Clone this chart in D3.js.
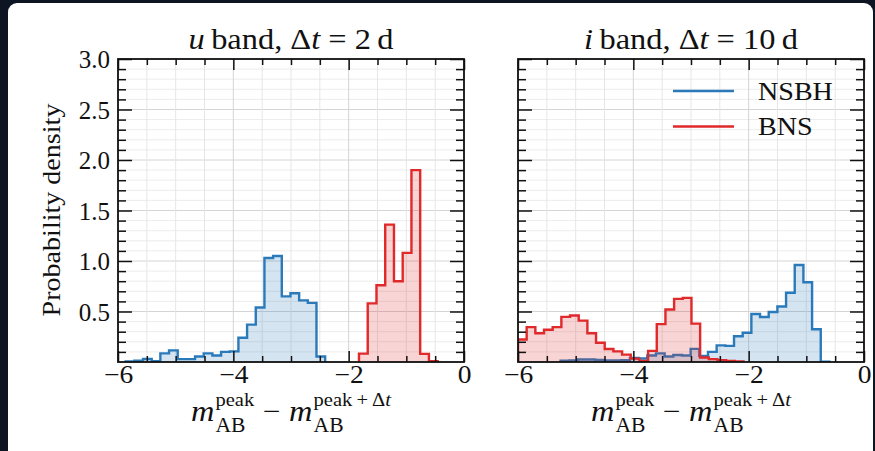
<!DOCTYPE html>
<html>
<head>
<meta charset="utf-8">
<script src="https://cdn.jsdelivr.net/npm/d3@7"></script>
<style>
  body { margin: 0; background: #0e1522; }
  svg { display: block; }
</style>
</head>
<body>
<svg id="chart" width="875" height="451"></svg>
<script>
// ---- data -------------------------------------------------------------
const xTickValues = [-6, -4, -2, 0];
const yTickValues = [0.5, 1.0, 1.5, 2.0, 2.5, 3.0];
const seriesNames = ["NSBH", "BNS"];

// u band, Δt = 2 d : first bin edge, bin width, probability densities
const uNsbhStart = -5.867, uNsbhWidth = 0.1504;
const uNsbhDensity = [0.005, 0.012, 0.03, 0.008, 0.085, 0.115, 0.028, 0.028, 0.055, 0.085,
  0.065, 0.1, 0.105, 0.24, 0.37, 0.54, 1.03, 1.05, 0.65, 0.68, 0.61, 0.585, 0.055];
const uBnsStart = -1.821, uBnsWidth = 0.1516;
const uBnsDensity = [0.083, 0.58, 0.76, 1.36, 0.80, 1.08, 1.90, 0.08, 0.008];

// i band, Δt = 10 d
const iNsbhStart = -5.262, iNsbhWidth = 0.1504;
const iNsbhDensity = [0.012, 0.015, 0.025, 0.025, 0.02, 0.015, 0.015, 0.018, 0.04, 0.035,
  0.065, 0.085, 0.055, 0.07, 0.065, 0.13, 0.06, 0.1, 0.165, 0.16, 0.255, 0.29, 0.475,
  0.445, 0.495, 0.55, 0.685, 0.96, 0.79, 0.325, 0.004];
const iBnsStart = -6.0, iBnsWidth = 0.1504;
const iBnsDensity = [0.223, 0.345, 0.285, 0.32, 0.345, 0.447, 0.46, 0.41, 0.285, 0.19,
  0.128, 0.105, 0.073, 0.033, 0.01, 0.11, 0.375, 0.52, 0.625, 0.635, 0.38, 0.045,
  0.028, 0.018, 0.01, 0.005];

// ---- layout & style ---------------------------------------------------
const FONT = "'Liberation Serif', 'Times New Roman', serif";
const TXT_STRETCH = 1.08;
const COLORS = { NSBH: "#2a7aba", BNS: "#e0292b" };
const plotTop = 59, plotBottom = 362;

const panels = [
  { left: 118, right: 464, band: "u", dt: "2", showY: true,
    series: [
      { name: "NSBH", start: uNsbhStart, width: uNsbhWidth, values: uNsbhDensity },
      { name: "BNS", start: uBnsStart, width: uBnsWidth, values: uBnsDensity }
    ] },
  { left: 518, right: 864, band: "i", dt: "10", showY: false, legend: true,
    series: [
      { name: "NSBH", start: iNsbhStart, width: iNsbhWidth, values: iNsbhDensity },
      { name: "BNS", start: iBnsStart, width: iBnsWidth, values: iBnsDensity }
    ] }
];

const svg = d3.select("#chart");

// card background
svg.append("rect").attr("width", 875).attr("height", 451).attr("fill", "#0e1522");
svg.append("rect").attr("x", 8).attr("y", 3).attr("width", 865).attr("height", 470)
  .attr("rx", 9).attr("fill", "#ffffff");

const y = d3.scaleLinear().domain([0, 3]).range([plotBottom, plotTop]);

function stepPoints(s) {
  const pts = [[s.start, 0]];
  s.values.forEach((v, i) => {
    pts.push([s.start + i * s.width, v]);
    pts.push([s.start + (i + 1) * s.width, v]);
  });
  pts.push([s.start + s.values.length * s.width, 0]);
  return pts;
}

// horizontally stretched text group helper
function stretchedText(parent, x, yPos, anchor) {
  return parent.append("g")
    .attr("transform", `translate(${x},${yPos}) scale(${TXT_STRETCH},1)`)
    .append("text").attr("text-anchor", anchor).attr("font-family", FONT).attr("fill", "#111");
}

panels.forEach((p, pi) => {
  const x = d3.scaleLinear().domain([-6, 0]).range([p.left, p.right]);
  const g = svg.append("g");
  const clipId = "clip" + pi;
  g.append("clipPath").attr("id", clipId).append("rect")
    .attr("x", p.left).attr("y", plotTop)
    .attr("width", p.right - p.left).attr("height", plotBottom - plotTop);

  // grid
  const grid = g.append("g");
  d3.range(0, 3.001, 0.1).forEach(v => {
    const major = Math.abs(v * 2 - Math.round(v * 2)) < 1e-6;
    grid.append("line").attr("x1", p.left).attr("x2", p.right)
      .attr("y1", y(v)).attr("y2", y(v))
      .attr("stroke", major ? "#d4d4d4" : "#ececec").attr("stroke-width", 1);
  });
  d3.range(-6, 0.001, 0.5).forEach(v => {
    const major = Math.abs(v / 2 - Math.round(v / 2)) < 1e-6;
    grid.append("line").attr("y1", plotTop).attr("y2", plotBottom)
      .attr("x1", x(v)).attr("x2", x(v))
      .attr("stroke", major ? "#d4d4d4" : "#e6e6e6").attr("stroke-width", 1);
  });

  // histograms
  const area = d3.area().x(d => x(d[0])).y0(y(0)).y1(d => y(d[1]));
  const line = d3.line().x(d => x(d[0])).y(d => y(d[1]));
  const hist = g.append("g").attr("clip-path", `url(#${clipId})`);
  p.series.forEach(s => {
    const pts = stepPoints(s);
    hist.append("path").attr("d", area(pts))
      .attr("fill", COLORS[s.name]).attr("fill-opacity", 0.2);
    hist.append("path").attr("d", line(pts))
      .attr("fill", "none").attr("stroke", COLORS[s.name])
      .attr("stroke-width", 2.4).attr("stroke-linejoin", "miter");
  });

  // ticks (inward on all sides)
  const xMinor = d3.range(-6, 0.001, 0.5).filter(v => !xTickValues.includes(v));
  const yMinor = d3.range(0.1, 3.0, 0.1).filter(v => Math.abs(v * 2 - Math.round(v * 2)) > 1e-6);
  const tickStyle = sel => {
    sel.select(".domain").remove();
    sel.selectAll("line").attr("stroke", "#111").attr("stroke-width", 1.5);
  };

  const bottom = g.append("g").attr("transform", `translate(0,${plotBottom})`)
    .call(d3.axisBottom(x).tickValues(xTickValues).tickSize(-11).tickPadding(0)
      .tickFormat(d3.format("d")))
    .call(tickStyle);
  bottom.selectAll(".tick text").attr("y", 21).attr("dy", null)
    .attr("font-family", FONT).attr("font-size", 25).attr("fill", "#111")
    .attr("transform", "scale(1.1,1)");
  g.append("g").attr("transform", `translate(0,${plotBottom})`)
    .call(d3.axisBottom(x).tickValues(xMinor).tickSize(-6).tickFormat(""))
    .call(tickStyle);
  g.append("g").attr("transform", `translate(0,${plotTop})`)
    .call(d3.axisTop(x).tickValues(xTickValues).tickSize(-11).tickFormat(""))
    .call(tickStyle);
  g.append("g").attr("transform", `translate(0,${plotTop})`)
    .call(d3.axisTop(x).tickValues(xMinor).tickSize(-6).tickFormat(""))
    .call(tickStyle);

  const leftAx = g.append("g").attr("transform", `translate(${p.left},0)`)
    .call(d3.axisLeft(y).tickValues(yTickValues).tickSize(-14).tickPadding(8)
      .tickFormat(p.showY ? d3.format(".1f") : ""))
    .call(tickStyle);
  leftAx.selectAll("text").attr("x", -8).attr("dy", "0.34em")
    .attr("font-family", FONT).attr("font-size", 25).attr("fill", "#111");
  g.append("g").attr("transform", `translate(${p.left},0)`)
    .call(d3.axisLeft(y).tickValues(yMinor).tickSize(-8).tickFormat(""))
    .call(tickStyle);
  g.append("g").attr("transform", `translate(${p.right},0)`)
    .call(d3.axisRight(y).tickValues(yTickValues).tickSize(-14).tickFormat(""))
    .call(tickStyle);
  g.append("g").attr("transform", `translate(${p.right},0)`)
    .call(d3.axisRight(y).tickValues(yMinor).tickSize(-8).tickFormat(""))
    .call(tickStyle);

  // frame
  g.append("rect").attr("x", p.left).attr("y", plotTop)
    .attr("width", p.right - p.left).attr("height", plotBottom - plotTop)
    .attr("fill", "none").attr("stroke", "#111").attr("stroke-width", 1.8);

  const cx = (p.left + p.right) / 2;

  // title
  const t = stretchedText(svg, cx, 49, "middle").attr("font-size", 30);
  t.append("tspan").attr("font-style", "italic").text(p.band);
  t.append("tspan").text("\u2009band, \u0394");
  t.append("tspan").attr("font-style", "italic").text("t");
  t.append("tspan").text(` = ${p.dt}\u2009d`);

  // x label: m_AB^peak − m_AB^(peak + Δt)
  const lg = svg.append("g");
  const inner = lg.append("g");
  let cur = 0;
  const put = (str, size, dy, italic) => {
    const el = inner.append("text").attr("x", cur).attr("y", dy)
      .attr("font-family", FONT).attr("font-size", size).attr("fill", "#111")
      .attr("font-style", italic ? "italic" : "normal").text(str);
    return el;
  };
  const piece = (sup, supItalicT) => {
    let w = put("m", 30, 0, true).node().getComputedTextLength();
    cur += w + 1;
    const s = put(sup, 19, -15, false);
    if (supItalicT) s.append("tspan").attr("font-style", "italic").text("t");
    const sub = put("AB", 20, 11, false);
    cur += Math.max(s.node().getComputedTextLength(), sub.node().getComputedTextLength());
  };
  piece("peak", false);
  cur += 8;
  const minus = put("\u2212", 29, 0, false);
  cur += minus.node().getComputedTextLength() + 8;
  piece("peak\u2009+\u2009\u0394", true);
  inner.attr("transform", `translate(${-cur / 2},0)`);
  lg.attr("transform", `translate(${cx},421) scale(${TXT_STRETCH},1)`);

  // legend
  if (p.legend) {
    seriesNames.forEach((name, i) => {
      const ly = 91 + i * 35.5;
      svg.append("line").attr("x1", 673).attr("x2", 734).attr("y1", ly).attr("y2", ly)
        .attr("stroke", COLORS[name]).attr("stroke-width", 2.4);
      stretchedText(svg, 758, ly + 8.5, "start").attr("font-size", 26).text(name);
    });
  }
});

// y label
svg.append("g").attr("transform", `translate(60,210) rotate(-90) scale(${TXT_STRETCH},1)`)
  .append("text").attr("text-anchor", "middle").attr("font-family", FONT)
  .attr("font-size", 26).attr("fill", "#111").text("Probability density");
</script>
</body>
</html>
